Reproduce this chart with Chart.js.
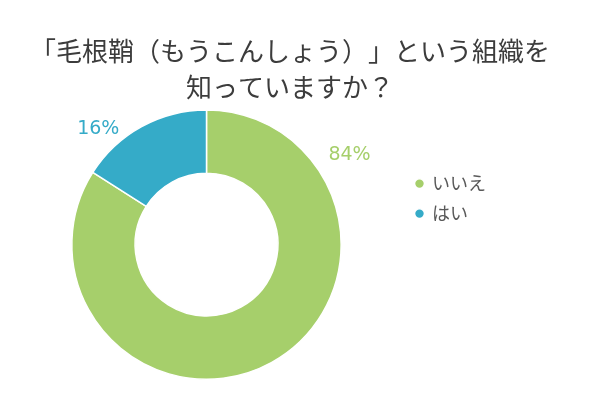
<!DOCTYPE html>
<html>
<head>
<meta charset="utf-8">
<script src="https://cdn.jsdelivr.net/npm/chart.js@4"></script>
<style>
  html, body { margin: 0; padding: 0; background: #fff; }
  #wrap { width: 600px; height: 400px; }
  canvas { text-spacing-trim: space-all; font-feature-settings: "chws" 0; }
</style>
</head>
<body>
<div id="wrap"><canvas id="grafico" width="600" height="400"></canvas></div>
<script>
const categorias = ["いいえ", "はい"];
const valores = [84, 16];
const colores = ["#a6cf6b", "#35abc8"];
const titulo = ["「毛根鞘（もうこんしょう）」という組織を", "知っていますか？"];

// labels outside the ring: angle (deg clockwise from top) and distance past the rim
const etiquetas = {
  id: "etiquetas",
  afterDatasetsDraw(chart, args, opts) {
    const ctx = chart.ctx;
    const arcs = chart.getDatasetMeta(0).data;
    ctx.save();
    ctx.font = "19px 'DejaVu Sans'";
    ctx.textAlign = "center";
    ctx.textBaseline = "middle";
    arcs.forEach((arc, i) => {
      const a = (opts.angulos[i] - 90) * Math.PI / 180;
      const r = arc.outerRadius + opts.distancias[i];
      ctx.fillStyle = colores[i];
      ctx.fillText(valores[i] + "%", arc.x + Math.cos(a) * r, arc.y + Math.sin(a) * r);
    });
    ctx.restore();
  }
};

// widen the legend box so the title stays centred over the whole picture
const anchoLeyenda = {
  id: "anchoLeyenda",
  beforeInit(chart, args, opts) {
    const fitOriginal = chart.legend.fit;
    chart.legend.fit = function () {
      fitOriginal.call(this);
      this.width += opts.extra;
    };
  }
};

const ctx = document.getElementById("grafico").getContext("2d");
new Chart(ctx, {
  type: "doughnut",
  data: {
    labels: categorias,
    datasets: [{
      data: valores,
      backgroundColor: colores,
      borderColor: "#ffffff",
      borderWidth: 1.5,
    }],
  },
  options: {
    responsive: false,
    animation: false,
    cutout: "53%",
    layout: { padding: { left: 9, right: 29, bottom: 20 } },
    plugins: {
      title: {
        display: true,
        text: titulo,
        color: "#3c3c3c",
        font: { family: "'Noto Sans CJK JP'", size: 26, weight: "normal", lineHeight: 1.35 },
        padding: { top: 34, bottom: 5 },
      },
      legend: {
        position: "right",
        align: "start",
        fullSize: false,
        title: { display: true, text: "", padding: { top: 0, bottom: 39 } },
        labels: {
          usePointStyle: true,
          pointStyle: "circle",
          boxWidth: 7,
          boxHeight: 7,
          padding: 12,
          color: "#595959",
          font: { family: "'Noto Sans CJK JP'", size: 18 },
        },
      },
      tooltip: { enabled: false },
      etiquetas: { angulos: [58, 317], distancias: [34, 24] },
      anchoLeyenda: { extra: 75 },
    },
  },
  plugins: [etiquetas, anchoLeyenda],
});
</script>
</body>
</html>
